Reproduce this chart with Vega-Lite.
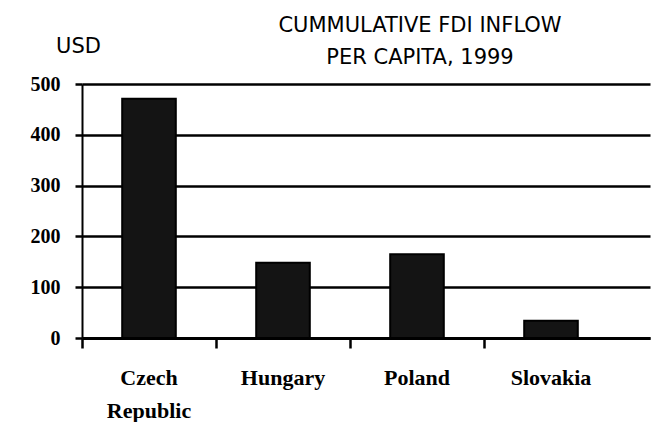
{
  "$schema": "https://vega.github.io/schema/vega-lite/v6.json",
  "width": 568,
  "height": 254,
  "autosize": "none",
  "padding": {"left": 82, "top": 84, "right": 2, "bottom": 84},
  "background": "white",
  "title": {
    "text": ["CUMMULATIVE FDI INFLOW", "PER CAPITA, 1999"],
    "font": "DejaVu Sans",
    "fontSize": 21,
    "fontWeight": "normal",
    "color": "black",
    "lineHeight": 32,
    "anchor": "middle",
    "dx": 54,
    "dy": 49,
    "baseline": "top",
    "offset": 16
  },
  "data": {
    "values": [
      {"country": "Czech Republic", "fdi": 471},
      {"country": "Hungary", "fdi": 148},
      {"country": "Poland", "fdi": 165},
      {"country": "Slovakia", "fdi": 34}
    ]
  },
  "config": {"view": {"stroke": null}},
  "mark": {"type": "bar", "fill": "#141414", "stroke": "black", "strokeWidth": 2, "width": {"band": 0.4}},
  "encoding": {
    "x": {
      "field": "country",
      "type": "nominal",
      "sort": null,
      "scale": {"paddingInner": 0, "paddingOuter": 0.1194, "align": 0},
      "axis": {
        "title": null,
        "labelAngle": 0,
        "bandPosition": 0,
        "domainColor": "black",
        "domainWidth": 3,
        "tickColor": "black",
        "tickWidth": 2.5,
        "tickSize": 10,
        "labelFont": "Liberation Serif",
        "labelFontWeight": "bold",
        "labelFontSize": 22,
        "labelColor": "black",
        "labelPadding": 19,
        "labelBaseline": "top",
        "labelLineHeight": 33,
        "labelExpr": "datum.value == 'Czech Republic' ? ['Czech', 'Republic'] : datum.value"
      }
    },
    "y": {
      "field": "fdi",
      "type": "quantitative",
      "scale": {"domain": [0, 500], "nice": false},
      "axis": {
        "values": [0, 100, 200, 300, 400, 500],
        "title": "USD",
        "titleAngle": 0,
        "titleX": -4,
        "titleY": -32,
        "titleAlign": "center",
        "titleBaseline": "alphabetic",
        "titleFont": "DejaVu Sans",
        "titleFontSize": 21,
        "titleFontWeight": "normal",
        "titleColor": "black",
        "grid": true,
        "gridColor": "black",
        "gridWidth": 2.5,
        "gridOpacity": 1,
        "domainColor": "black",
        "domainWidth": 2,
        "tickColor": "black",
        "tickWidth": 2.5,
        "tickSize": 7,
        "labelFont": "Liberation Serif",
        "labelFontWeight": "bold",
        "labelFontSize": 20,
        "labelColor": "black",
        "labelPadding": 15
      }
    }
  }
}
